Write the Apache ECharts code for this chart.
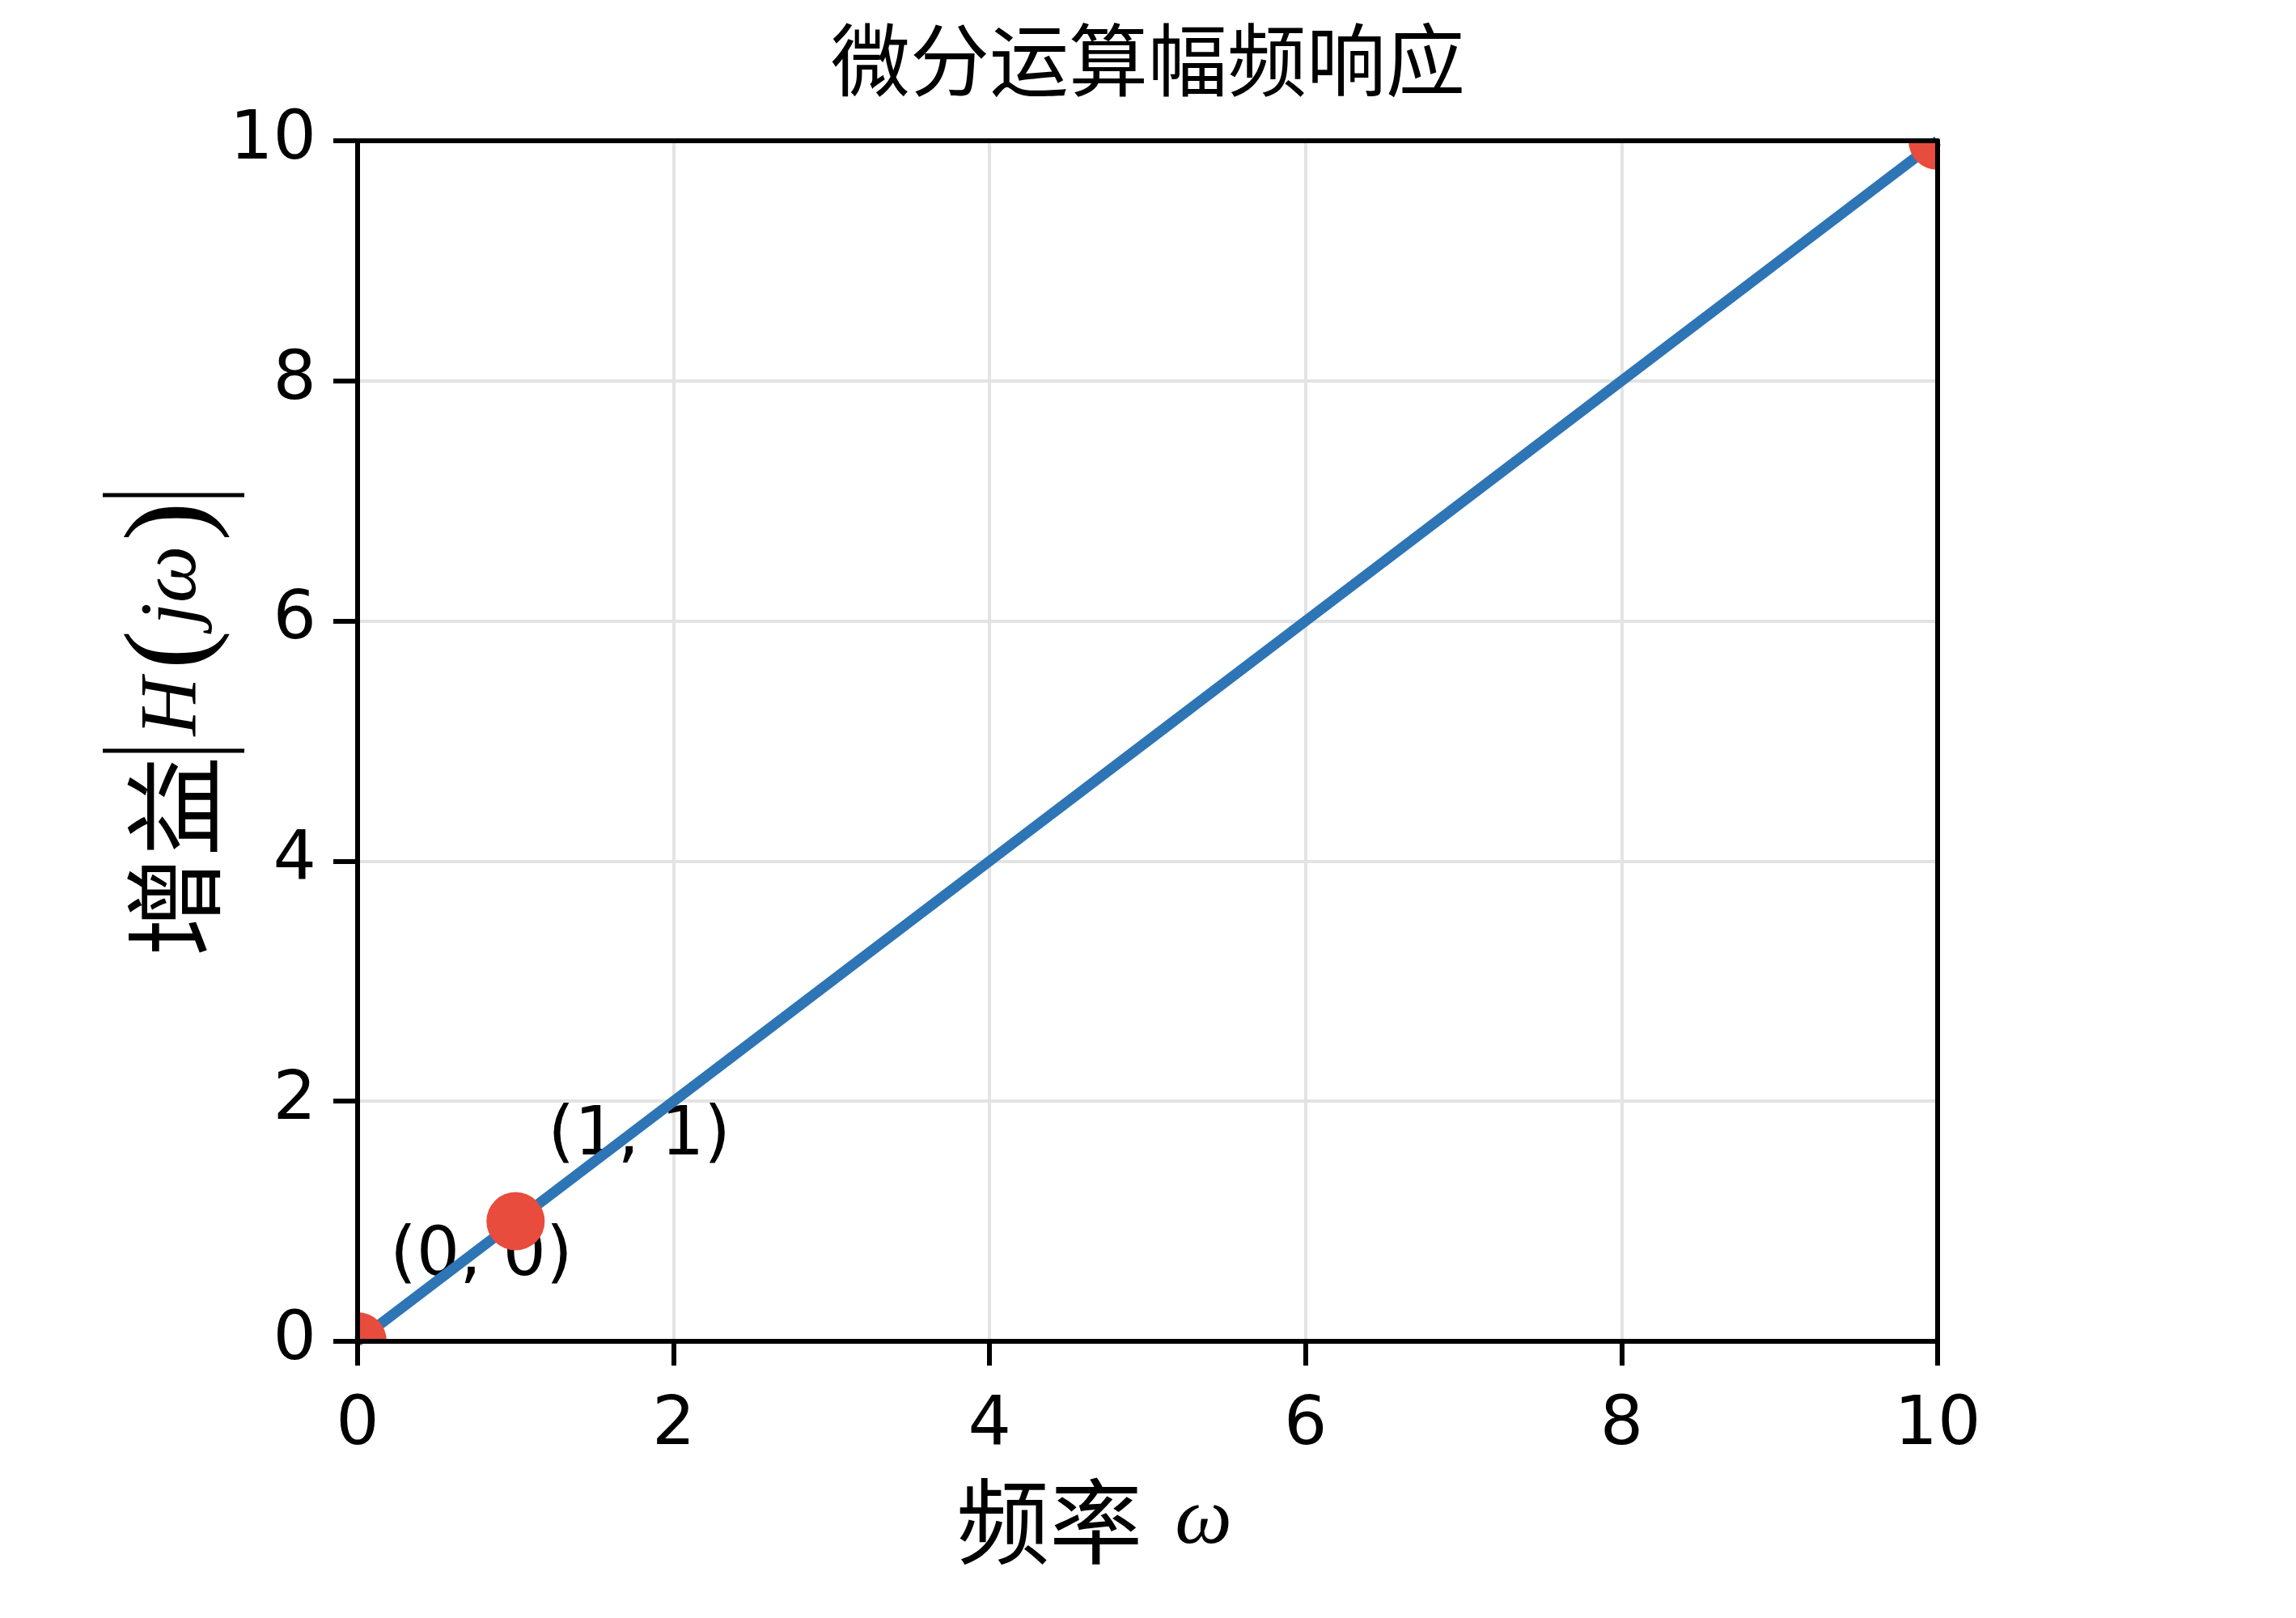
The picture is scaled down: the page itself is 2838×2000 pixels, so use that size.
<!DOCTYPE html>
<html>
<head>
<meta charset="utf-8">
<script src="https://cdn.jsdelivr.net/npm/echarts@6/dist/echarts.min.js"></script>
<style>
html,body{margin:0;padding:0;background:#fff;}
#chart{width:2838px;height:2000px;}
</style>
</head>
<body>
<div id="chart"></div>
<script>
// Data
const omega = [0, 1, 2, 3, 4, 5, 6, 7, 8, 9, 10];
const gain = [0, 1, 2, 3, 4, 5, 6, 7, 8, 9, 10];
const markOmega = [0, 1, 10];
const markGain = [0, 1, 10];
const annoOmega = [0, 1];
const annoGain = [0, 1];
const annoText = ['(0, 0)', '(1, 1)'];
const titleText = '微分运算幅频响应';

const lineData = omega.map((w, i) => [w, gain[i]]);
const markData = markOmega.map((w, i) => [w, markGain[i]]);
const annoData = annoOmega.map((w, i) => [w, annoGain[i], i]);

const NUM_FONT = 'DejaVu Sans';
const CJK_FONT = 'Noto Sans CJK SC';
const MATH_FONT = 'Liberation Serif';

const frameLine = { show: true, onZero: false, lineStyle: { color: '#000', width: 6 } };

const chart = echarts.init(document.getElementById('chart'), null, { renderer: 'canvas' });
chart.setOption({
  backgroundColor: '#fff',
  animation: false,
  title: {
    text: titleText,
    left: 'center',
    top: 20,
    textStyle: { fontFamily: CJK_FONT, fontSize: 98, fontWeight: 'normal', color: '#000' }
  },
  grid: { left: 442, right: 443, top: 174, bottom: 342 },
  xAxis: [
    {
      type: 'value', min: 0, max: 10, interval: 2, position: 'bottom', z: 10,
      axisLine: frameLine,
      axisTick: { show: true, length: 30, lineStyle: { color: '#000', width: 6 } },
      axisLabel: { show: true, margin: 63, fontFamily: NUM_FONT, fontSize: 84, color: '#000' },
      splitLine: { show: false },
      name: '{cn|频率}{sp| }{m|ω}',
      nameLocation: 'middle',
      nameGap: 165,
      nameTextStyle: {
        padding: [0, 132, 0, 0],
        rich: {
          cn: { fontFamily: CJK_FONT, fontSize: 115, color: '#000' },
          sp: { width: 40 },
          m: { fontFamily: MATH_FONT, fontStyle: 'italic', fontSize: 100, color: '#000' }
        }
      }
    },
    {
      type: 'value', min: 0, max: 10, interval: 2, position: 'top', z: 10,
      axisLine: frameLine, axisTick: { show: false }, axisLabel: { show: false }, splitLine: { show: false }
    },
    {
      type: 'value', min: 0, max: 10, interval: 2, z: 0,
      axisLine: { show: false }, axisTick: { show: false }, axisLabel: { show: false },
      splitLine: { show: true, lineStyle: { color: '#e3e3e3', width: 4 } }
    }
  ],
  yAxis: [
    {
      type: 'value', min: 0, max: 10, interval: 2, position: 'left', z: 10,
      axisLine: frameLine,
      axisTick: { show: true, length: 30, lineStyle: { color: '#000', width: 6 } },
      axisLabel: { show: true, margin: 51, fontFamily: NUM_FONT, fontSize: 84, color: '#000' },
      splitLine: { show: false },
      name: '{cn|增益}{sp1| }{bar| }{sp2| }{m|H}{sp3| }{par|(}{sp4| }{m|jω}{sp4| }{par|)}{sp4| }{bar| }',
      nameLocation: 'middle',
      nameRotate: 90,
      nameGap: 140,
      nameMoveOverlap: false,
      nameTextStyle: {
        padding: [0, 0, 0, 40],
        rich: {
          cn: { fontFamily: CJK_FONT, fontSize: 124, color: '#000' },
          sp1: { width: 4 },
          sp2: { width: 16 },
          sp3: { width: 10 },
          sp4: { width: 6 },
          bar: { width: 5, height: 175, backgroundColor: '#000' },
          m: { fontFamily: MATH_FONT, fontStyle: 'italic', fontSize: 100, color: '#000' },
          par: { fontFamily: MATH_FONT, fontSize: 145, color: '#000' }
        }
      }
    },
    {
      type: 'value', min: 0, max: 10, interval: 2, position: 'right', z: 10,
      axisLine: frameLine, axisTick: { show: false }, axisLabel: { show: false }, splitLine: { show: false }
    },
    {
      type: 'value', min: 0, max: 10, interval: 2, z: 0,
      axisLine: { show: false }, axisTick: { show: false }, axisLabel: { show: false },
      splitLine: { show: true, lineStyle: { color: '#e3e3e3', width: 4 } }
    }
  ],
  series: [
    {
      type: 'custom',
      xAxisIndex: 0, yAxisIndex: 0,
      z: 1,
      clip: false,
      silent: true,
      data: annoData,
      encode: { x: 0, y: 1 },
      renderItem: function (params, api) {
        const p = api.coord([api.value(0), api.value(1)]);
        return {
          type: 'text',
          x: p[0] + 40,
          y: p[1] - 104,
          style: {
            text: annoText[api.value(2)],
            fill: '#000',
            font: '84px "DejaVu Sans"',
            textAlign: 'left',
            textVerticalAlign: 'middle'
          }
        };
      }
    },
    {
      type: 'line',
      xAxisIndex: 0, yAxisIndex: 0,
      z: 2,
      data: lineData,
      showSymbol: false,
      lineStyle: { color: '#2e75b6', width: 13 },
      clip: true
    },
    {
      type: 'custom',
      xAxisIndex: 0, yAxisIndex: 0,
      z: 3,
      clip: true,
      data: markData,
      encode: { x: 0, y: 1 },
      renderItem: function (params, api) {
        const p = api.coord([api.value(0), api.value(1)]);
        return {
          type: 'circle',
          shape: { cx: p[0], cy: p[1], r: 36 },
          style: { fill: '#e74c3c' }
        };
      }
    }
  ]
});
</script>
</body>
</html>
